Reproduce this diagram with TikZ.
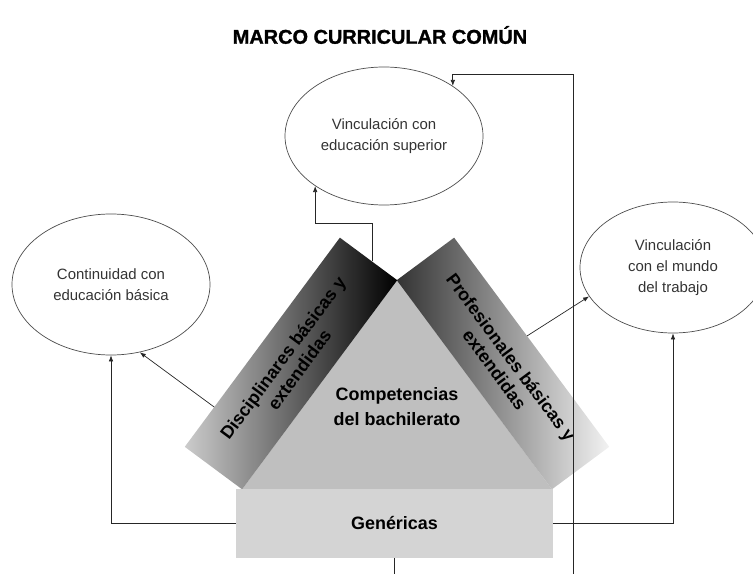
\documentclass[tikz,border=0pt]{standalone}
\usepackage{fontspec}
\setmainfont{Liberation Sans}
\newfontface\titlefont{Liberation Sans Bold}[FakeBold=1.3]
\usetikzlibrary{shapes.geometric, arrows.meta, positioning, calc, backgrounds}

\begin{document}
\begin{tikzpicture}[
    x=1bp, y=-1bp,
    goal/.style={ellipse, draw=black!70, line width=0.7bp, inner sep=0pt,
                 align=center, text=black!80, font=\fontsize{15}{21.5}\selectfont},
    band/.style={rectangle, inner sep=0pt, minimum width=260bp, minimum height=71bp,
                 align=center, font=\bfseries\fontsize{18}{20.5}\selectfont},
    arr/.style={-{Latex[length=6bp,width=4.5bp]}, line width=0.7bp, draw=black!85},
    link/.style={line width=0.7bp, draw=black!85},
]
\useasboundingbox (0,0) rectangle (753,574);
\clip (0,0) rectangle (753,574);

\node[font=\titlefont\fontsize{20}{24}\selectfont] (title) at (380,35) {MARCO CURRICULAR COMÚN};

\node[goal, minimum width=198bp, minimum height=138bp] (sup) at (384,136) {Vinculación con\\educación superior};
\node[goal, minimum width=198bp, minimum height=141bp] (bas) at (111,284.5) {Continuidad con\\educación básica};
\node[goal, minimum width=186bp, minimum height=131bp] (tra) at (673,267.5) {Vinculación\\con el mundo\\del trabajo};

\node[band, rotate=53.44]  (disc) at (291,363.5) {Disciplinares básicas y\\extendidas};
\node[band, rotate=-53.44] (prof) at (503,363.5) {Profesionales básicas y\\extendidas};
\node[font=\bfseries\fontsize{18}{25}\selectfont, align=center] (core) at (397,407) {Competencias\\del bachilerato};
\node[rectangle, fill=black!17, minimum width=317bp, minimum height=69bp,
      font=\bfseries\fontsize{18}{22}\selectfont] (gen) at (394.5,523.5) {Genéricas};

\coordinate (outA) at (394.5,574);
\coordinate (outB) at (573,574);

% triangle and the two shaded bands
\begin{scope}[on background layer]
  \fill[black!25] (disc.south west) -- (disc.south east) -- (prof.south east) -- cycle;
  \shade[left color=black!20, right color=black]
    (disc.north west) -- (disc.north east) -- (disc.south east) -- (disc.south west) -- cycle;
  \shade[left color=black!80, right color=black!5]
    (prof.north west) -- (prof.north east) -- (prof.south east) -- (prof.south west) -- cycle;
\end{scope}

\draw[arr] ($(disc.north east)!0.56!(disc.south east)$) -- ++(0,-38) -| (sup.216);
\draw[arr] (outB) -- ++(0,-500) -| (sup.36);
\draw[arr] ($(disc.north west)!0.19!(disc.north east)$) -- (bas.293);
\draw[arr] (gen.west) -| (bas.south);
\draw[arr] ($(prof.north west)!0.47!(prof.north east)$) -- (tra.199);
\draw[arr] (gen.east) -| (tra.south);
\draw[link] (gen.south) -- (outA);
\end{tikzpicture}
\end{document}
